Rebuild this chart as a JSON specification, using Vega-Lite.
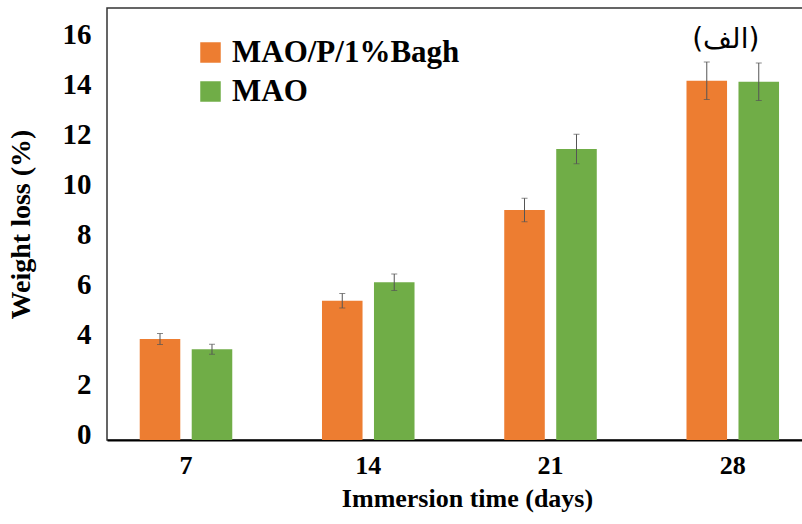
{
  "$schema": "https://vega.github.io/schema/vega-lite/v6.json",
  "width": 720,
  "height": 432,
  "autosize": {"type": "none"},
  "padding": {"left": 107, "top": 8, "right": 0, "bottom": 84},
  "background": "white",
  "config": {
    "view": {"stroke": "#333333", "strokeWidth": 1.5},
    "font": "Times New Roman, Liberation Serif, serif"
  },
  "datasets": {
    "bars": [
      {"day": "7", "series": "MAO/P/1%Bagh", "value": 4.04, "low": 3.82, "high": 4.26},
      {"day": "7", "series": "MAO", "value": 3.63, "low": 3.43, "high": 3.83},
      {"day": "14", "series": "MAO/P/1%Bagh", "value": 5.57, "low": 5.28, "high": 5.86},
      {"day": "14", "series": "MAO", "value": 6.31, "low": 5.98, "high": 6.64},
      {"day": "21", "series": "MAO/P/1%Bagh", "value": 9.2, "low": 8.73, "high": 9.67},
      {"day": "21", "series": "MAO", "value": 11.64, "low": 11.05, "high": 12.23},
      {"day": "28", "series": "MAO/P/1%Bagh", "value": 14.37, "low": 13.62, "high": 15.12},
      {"day": "28", "series": "MAO", "value": 14.33, "low": 13.58, "high": 15.08}
    ],
    "notes": [
      {"day": "28", "y": 16, "label": "(الف)"}
    ]
  },
  "layer": [
    {
      "data": {"name": "bars"},
      "mark": {"type": "bar"},
      "encoding": {
        "x": {
          "field": "day", "type": "ordinal", "sort": ["7", "14", "21", "28"],
          "title": "Immersion time (days)",
          "scale": {"paddingInner": 0.4295, "paddingOuter": 0.19, "align": 0.39},
          "axis": {
            "labelAngle": 0, "ticks": false, "domainColor": "#000000", "domainWidth": 2,
            "labelFont": "Times New Roman, Liberation Serif, serif", "labelFontSize": 26, "labelFontWeight": "bold",
            "labelColor": "#000000", "labelPadding": 12,
            "titleFont": "Times New Roman, Liberation Serif, serif", "titleFontSize": 26, "titleFontWeight": "bold",
            "titleColor": "#000000", "titlePadding": 7
          }
        },
        "xOffset": {
          "field": "series", "type": "nominal", "sort": ["MAO/P/1%Bagh", "MAO"],
          "scale": {"paddingInner": 0.22, "paddingOuter": 0.11}
        },
        "y": {
          "field": "value", "type": "quantitative", "title": "Weight loss (%)",
          "scale": {"domain": [0, 17.28], "nice": false},
          "axis": {
            "values": [0, 2, 4, 6, 8, 10, 12, 14, 16], "grid": false, "ticks": false, "domain": false,
            "labelFont": "Times New Roman, Liberation Serif, serif", "labelFontSize": 29, "labelFontWeight": "bold",
            "labelColor": "#000000", "labelPadding": 16, "labelOffset": -6,
            "titleFont": "Times New Roman, Liberation Serif, serif", "titleFontSize": 28, "titleFontWeight": "bold",
            "titleColor": "#000000", "titlePadding": 27
          }
        },
        "color": {
          "field": "series", "type": "nominal",
          "scale": {"domain": ["MAO/P/1%Bagh", "MAO"], "range": ["#ED7D31", "#70AD47"]},
          "legend": {
            "title": null, "orient": "none", "legendX": 88, "legendY": 29,
            "symbolType": "square", "symbolSize": 420, "symbolStrokeWidth": 0,
            "labelFont": "Times New Roman, Liberation Serif, serif", "labelFontSize": 31, "labelFontWeight": "bold",
            "labelColor": "#000000", "labelOffset": 6, "rowPadding": 7, "labelLimit": 400
          }
        }
      }
    },
    {
      "data": {"name": "bars"},
      "mark": {"type": "rule", "color": "#555555", "strokeWidth": 1},
      "encoding": {
        "x": {"field": "day", "type": "ordinal", "sort": ["7", "14", "21", "28"], "title": "Immersion time (days)"},
        "xOffset": {"field": "series", "type": "nominal", "sort": ["MAO/P/1%Bagh", "MAO"]},
        "y": {"field": "low", "type": "quantitative", "title": "Weight loss (%)"},
        "y2": {"field": "high"}
      }
    },
    {
      "data": {"name": "bars"},
      "mark": {"type": "tick", "color": "#555555", "size": 6, "thickness": 1},
      "encoding": {
        "x": {"field": "day", "type": "ordinal", "sort": ["7", "14", "21", "28"], "title": "Immersion time (days)"},
        "xOffset": {"field": "series", "type": "nominal", "sort": ["MAO/P/1%Bagh", "MAO"]},
        "y": {"field": "low", "type": "quantitative", "title": "Weight loss (%)"}
      }
    },
    {
      "data": {"name": "bars"},
      "mark": {"type": "tick", "color": "#555555", "size": 6, "thickness": 1},
      "encoding": {
        "x": {"field": "day", "type": "ordinal", "sort": ["7", "14", "21", "28"], "title": "Immersion time (days)"},
        "xOffset": {"field": "series", "type": "nominal", "sort": ["MAO/P/1%Bagh", "MAO"]},
        "y": {"field": "high", "type": "quantitative", "title": "Weight loss (%)"}
      }
    },
    {
      "data": {"name": "notes"},
      "mark": {"type": "text", "font": "DejaVu Sans", "fontSize": 28, "color": "#000000", "baseline": "middle", "align": "center", "dx": -7},
      "encoding": {
        "x": {"field": "day", "type": "ordinal", "sort": ["7", "14", "21", "28"], "title": "Immersion time (days)"},
        "y": {"field": "y", "type": "quantitative", "title": "Weight loss (%)"},
        "text": {"field": "label"}
      }
    }
  ]
}
